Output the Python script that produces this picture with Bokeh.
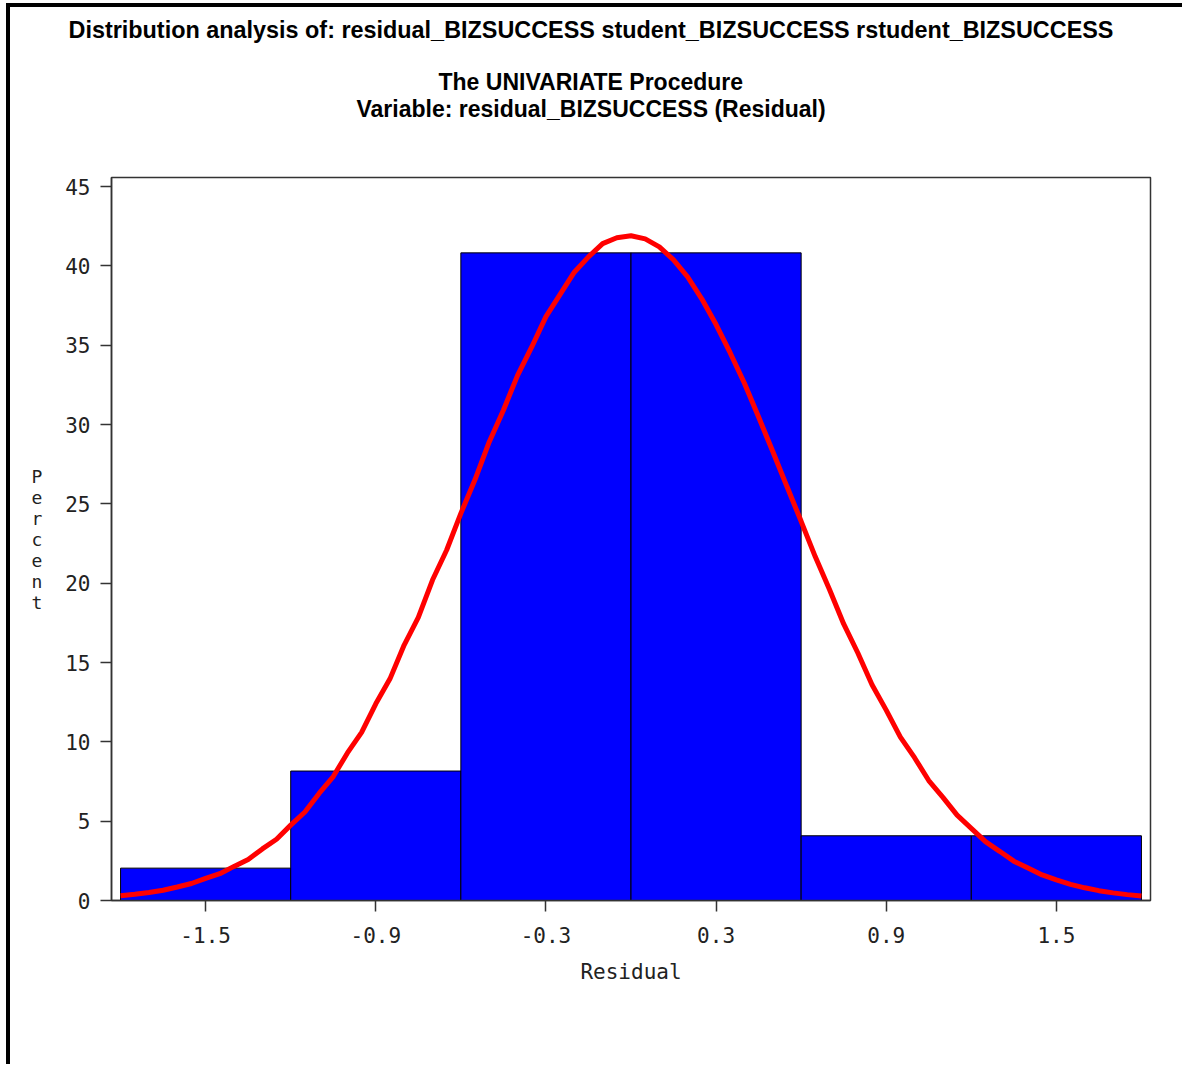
from bokeh.plotting import figure
from bokeh.models import Range1d, FixedTicker, Title
from bokeh.embed import file_html
from bokeh.resources import INLINE

# ---- data ----
bin_mid = [-1.5, -0.9, -0.3, 0.3, 0.9, 1.5]
percent = [2.04, 8.16, 40.82, 40.82, 4.08, 4.08]
bin_width = 0.6

curve_x = [-1.8, -1.75, -1.7, -1.65, -1.6, -1.55, -1.5, -1.45, -1.4, -1.35,
           -1.3, -1.25, -1.2, -1.15, -1.1, -1.05, -1.0, -0.95, -0.9, -0.85,
           -0.8, -0.75, -0.7, -0.65, -0.6, -0.55, -0.5, -0.45, -0.4, -0.35,
           -0.3, -0.25, -0.2, -0.15, -0.1, -0.05, 0.0, 0.05, 0.1, 0.15,
           0.2, 0.25, 0.3, 0.35, 0.4, 0.45, 0.5, 0.55, 0.6, 0.65,
           0.7, 0.75, 0.8, 0.85, 0.9, 0.95, 1.0, 1.05, 1.1, 1.15,
           1.2, 1.25, 1.3, 1.35, 1.4, 1.45, 1.5, 1.55, 1.6, 1.65,
           1.7, 1.75, 1.8]
curve_y = [0.3, 0.39, 0.5, 0.65, 0.85, 1.07, 1.4, 1.69, 2.15, 2.59,
           3.25, 3.86, 4.75, 5.58, 6.75, 7.81, 9.3, 10.6, 12.4, 13.97,
           16.1, 17.84, 20.2, 22.09, 24.4, 26.53, 28.9, 30.9, 33.1, 34.89,
           36.8, 38.2, 39.6, 40.57, 41.4, 41.77, 41.9, 41.7, 41.2, 40.38,
           39.3, 37.91, 36.3, 34.51, 32.6, 30.47, 28.3, 26.09, 23.9, 21.66,
           19.6, 17.43, 15.6, 13.6, 12.0, 10.3, 9.0, 7.56, 6.5, 5.38,
           4.55, 3.71, 3.1, 2.48, 2.05, 1.61, 1.3, 1.02, 0.8, 0.62,
           0.48, 0.37, 0.28]

x_ticks = [-1.5, -0.9, -0.3, 0.3, 0.9, 1.5]
x_tick_labels = ["-1.5", "-0.9", "-0.3", "0.3", "0.9", "1.5"]
y_ticks = [0, 5, 10, 15, 20, 25, 30, 35, 40, 45]
y_tick_labels = ["0", "5", "10", "15", "20", "25", "30", "35", "40", "45"]

title1 = "Distribution analysis of: residual_BIZSUCCESS student_BIZSUCCESS rstudent_BIZSUCCESS"
title2 = "The UNIVARIATE Procedure"
title3 = "Variable: residual_BIZSUCCESS (Residual)"
x_label = "Residual"
y_label = "P\ne\nr\nc\ne\nn\nt"

# ---- layout ----
W, H = 1176, 1061
CX, CY = 10, 7                          # canvas origin on the page (after margin + border)
X0, X1 = -1.832, 1.832
Y0, Y1 = 0.0, 45.57
FL, FR, FT, FB = 111, 1150, 177, 900   # frame edges in page pixels

p = figure(width=W, height=H, output_backend="svg", toolbar_location=None,
           x_range=Range1d(X0, X1), y_range=Range1d(Y0, Y1),
           min_border_left=FL - CX, min_border_right=CX + W - FR,
           min_border_top=FT - CY, min_border_bottom=CY + H - FB)
p.styles = {"margin-left": "6px", "margin-top": "3px",
            "border-left": "4px solid black", "border-top": "4px solid black"}
p.xgrid.visible = False
p.ygrid.visible = False
p.background_fill_color = "white"
p.border_fill_color = "white"
p.outline_line_color = "#333333"
p.outline_line_width = 1.5

mono = "DejaVu Sans Mono"

for ax in (p.xaxis[0], p.yaxis[0]):
    ax.minor_tick_line_color = None
    ax.major_tick_in = 0
    ax.major_tick_out = 11
    ax.axis_line_color = "#333333"
    ax.axis_line_width = 1.5
    ax.major_tick_line_color = "#333333"
    ax.major_tick_line_width = 1.5
    ax.major_label_text_font = mono
    ax.major_label_text_font_size = "21px"
    ax.major_label_text_color = "#222222"
    ax.axis_label_text_font = mono
    ax.axis_label_text_font_size = "21px"
    ax.axis_label_text_font_style = "normal"
    ax.axis_label_text_color = "#222222"

p.xaxis.ticker = FixedTicker(ticks=x_ticks)
p.xaxis.major_label_overrides = dict(zip(x_ticks, x_tick_labels))
p.xaxis.major_label_standoff = 15
p.xaxis.axis_label = x_label
p.xaxis.axis_label_standoff = 14

p.yaxis.ticker = FixedTicker(ticks=y_ticks)
p.yaxis.major_label_overrides = dict(zip(y_ticks, y_tick_labels))
p.yaxis.major_label_standoff = 10
p.yaxis.axis_label = y_label
p.yaxis.axis_label_orientation = "horizontal"
p.yaxis.axis_label_text_font_size = "18px"
p.yaxis.axis_label_text_line_height = 1.0
p.yaxis.axis_label_standoff = 20

# bars
p.vbar(x=bin_mid, top=percent, bottom=0, width=bin_width,
       fill_color="#0000FF", line_color="black", line_width=1)

# fitted curve
p.line(curve_x, curve_y, line_color="#FF0000", line_width=5)

# titles: panels in "above" stack outward from the frame; p.title is outermost
tfont = "Liberation Sans"


def spacer(px):
    return Title(text=" ", text_font_size="1px", standoff=px)


p.title = Title(text=title1, align="left", offset=68 - FL, standoff=0,
                text_font=tfont, text_font_style="bold", text_font_size="23.4px",
                text_color="black")
p.add_layout(spacer(53), "above")
p.add_layout(Title(text=title3, align="left", offset=356 - FL, standoff=0,
                   text_font=tfont, text_font_style="bold", text_font_size="23px",
                   text_color="black"), "above")
p.add_layout(Title(text=title2, align="left", offset=438 - FL, standoff=-2,
                   text_font=tfont, text_font_style="bold", text_font_size="23px",
                   text_color="black"), "above")
p.add_layout(spacer(22), "above")

open("out.html", "w").write(file_html(p, INLINE))
